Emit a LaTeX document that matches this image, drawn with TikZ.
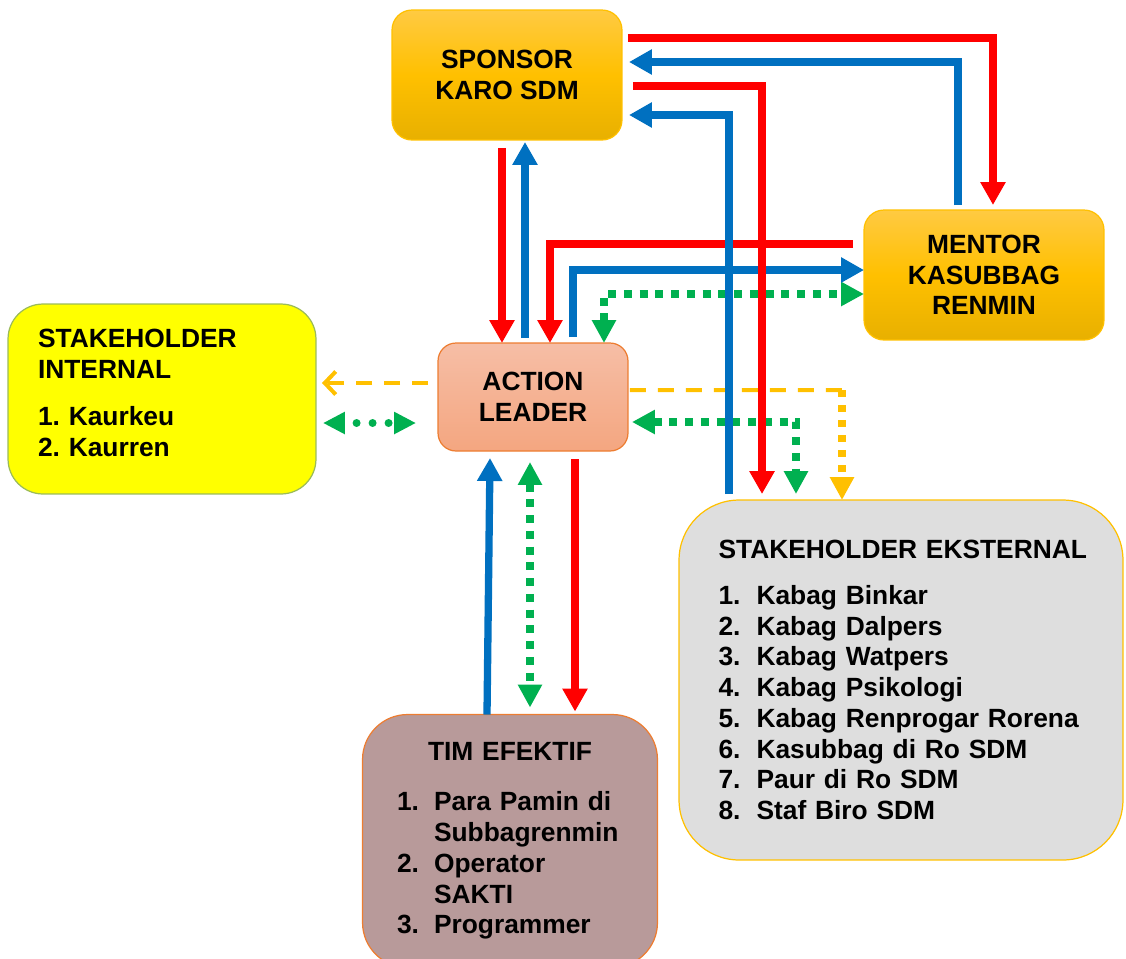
\documentclass[tikz,border=0pt]{standalone}
\usepackage{fontspec}
\setsansfont{Liberation Sans}
\usetikzlibrary{arrows.meta,calc}
\frenchspacing

\definecolor{sdmred}{HTML}{FF0000}
\definecolor{sdmblue}{HTML}{0070C0}
\definecolor{sdmgreen}{HTML}{00B050}
\definecolor{sdmorange}{HTML}{FFC000}
\definecolor{goldtop}{HTML}{FFCA42}
\definecolor{goldmid}{HTML}{FFC000}
\definecolor{goldbot}{HTML}{E8B000}
\definecolor{salmontop}{HTML}{F6BEA6}
\definecolor{salmonbot}{HTML}{F4A680}
\definecolor{edgeorange}{HTML}{ED7D31}
\definecolor{timfill}{HTML}{B89A9A}
\definecolor{ekstfill}{HTML}{DEDEDE}
\definecolor{intedge}{HTML}{9BBB59}
\definecolor{intfill}{HTML}{FFFF00}

\begin{document}
\begin{tikzpicture}[x=0.02cm, y=-0.02cm, font=\sffamily\bfseries\fontsize{15}{17.5}\selectfont,
    every node/.style={outer sep=0pt, inner sep=0pt}, line join=miter,
    box/.style={draw, line width=0.7pt},
    redarrow/.style={draw=sdmred, line width=0.146cm, -{Triangle[length=0.46cm,width=0.48cm]}},
    bluearrow/.style={draw=sdmblue, line width=0.146cm, -{Triangle[length=0.46cm,width=0.48cm]}},
    greendot/.style={draw=sdmgreen, line width=0.16cm, dash pattern=on 0.16cm off 0.155cm, {Triangle[length=0.46cm,width=0.46cm]}-{Triangle[length=0.46cm,width=0.46cm]}},
    orangedash/.style={draw=sdmorange, line width=0.08cm, dash pattern=on 0.32cm off 0.24cm}]
    \useasboundingbox (0,0) rectangle (1126,958);

    % Boxes
    \node[box, rounded corners=0.4cm, draw=goldmid, top color=goldtop, bottom color=goldbot, middle color=goldmid, minimum width=4.6cm, minimum height=2.6cm, align=center] (sponsor) at (507,75) {SPONSOR\\KARO SDM};
    \node[box, rounded corners=0.4cm, draw=goldmid, top color=goldtop, bottom color=goldbot, middle color=goldmid, minimum width=4.8cm, minimum height=2.6cm, align=center] (mentor) at (984,275) {MENTOR\\KASUBBAG\\RENMIN};
    \node[box, rounded corners=0.36cm, draw=edgeorange, top color=salmontop, bottom color=salmonbot, minimum width=3.8cm, minimum height=2.16cm, align=center] (leader) at (533,397) {ACTION\\LEADER};
    \node[box, rounded corners=0.7cm, draw=intedge, fill=intfill, minimum width=6.16cm, minimum height=3.8cm, text width=4.96cm, align=left] (internal) at (162,399) {STAKEHOLDER\\INTERNAL\\[0.33cm]1. Kaurkeu\\2. Kaurren\\[-0.38cm]\mbox{}};
    \node[box, rounded corners=1.2cm, draw=sdmorange, fill=ekstfill, minimum width=8.88cm, minimum height=7.2cm, text width=7.3cm, align=left] (ekst) at (901,680) {\mbox{STAKEHOLDER EKSTERNAL}\\[0.3cm]
        \makebox[0.76cm][l]{1.}Kabag Binkar\\
        \makebox[0.76cm][l]{2.}Kabag Dalpers\\
        \makebox[0.76cm][l]{3.}Kabag Watpers\\
        \makebox[0.76cm][l]{4.}Kabag Psikologi\\
        \makebox[0.76cm][l]{5.}Kabag Renprogar Rorena\\
        \makebox[0.76cm][l]{6.}Kasubbag di Ro SDM\\
        \makebox[0.76cm][l]{7.}Paur di Ro SDM\\
        \makebox[0.76cm][l]{8.}Staf Biro SDM};
    \node[box, rounded corners=0.9cm, draw=edgeorange, fill=timfill, minimum width=5.9cm, minimum height=5.06cm, text width=4.52cm, align=left] (tim) at (510,841) {\makebox[\linewidth]{TIM EFEKTIF}\\[0.39cm]
        \makebox[0.74cm][l]{1.}Para Pamin di\\
        \hspace*{0.74cm}Subbagrenmin\\
        \makebox[0.74cm][l]{2.}Operator\\
        \hspace*{0.74cm}SAKTI\\
        \makebox[0.74cm][l]{3.}Programmer};

    % Dotted and dashed links
    \draw[greendot] ($(leader.north)+(71,0)$) |- ($(mentor.west)+(0,19)$);
    \draw[greendot] ($(leader.east)+(4,25)$) -| ($(ekst.north)+(-105,-6)$);
    \draw[greendot] ($(leader.south)+(-3,11)$) -- ($(tim.north)+(20,-7)$);
    \draw[draw=sdmgreen, line width=0.16cm, line cap=round, dash pattern=on 0pt off 0.32cm, dash phase=0.06cm, {Triangle[length=0.44cm,width=0.42cm]}-{Triangle[length=0.44cm,width=0.42cm]}] ($(internal.east)+(7,24)$) -- ($(leader.west)+(-22,26)$);
    \draw[orangedash, -{Straight Barb[length=0.22cm,width=0.46cm,line width=0.08cm]}] ($(leader.west)+(-10,-14)$) -- ($(internal.east)+(6,-16)$);
    \coordinate (obend) at ($(ekst.north)+(-59,-110)$);
    \draw[orangedash] ($(leader.east)+(2,-7)$) -- (obend);
    \draw[draw=sdmorange, line width=0.15cm, dash pattern=on 0.14cm off 0.16cm, -{Triangle[length=0.46cm,width=0.46cm]}] (obend) -- (ekst.north -| obend);

    % Sponsor <-> Mentor
    \draw[redarrow] ($(sponsor.east)+(6,-37)$) -| ($(mentor.north)+(9,-5)$);
    \draw[bluearrow] ($(mentor.north)+(-26,-5)$) |- ($(sponsor.east)+(7,-13)$);

    % Sponsor <-> Action Leader
    \draw[redarrow] ($(sponsor.south)+(-5,8)$) -- ($(leader.north)+(-31,0)$);
    \draw[bluearrow] ($(leader.north)+(-8,-5)$) -- ($(sponsor.south)+(18,2)$);

    % Mentor <-> Action Leader
    \draw[redarrow] ($(mentor.west)+(-11,-31)$) -| ($(leader.north)+(17,0)$);

    % Sponsor <-> Stakeholder Eksternal
    \draw[bluearrow] ($(ekst.north)+(-172,-6)$) |- ($(sponsor.east)+(7,40)$);
    \draw[bluearrow] ($(leader.north)+(40,-6)$) |- ($(mentor.west)+(0,-5)$);
    \draw[redarrow] ($(sponsor.east)+(11,11)$) -| ($(ekst.north)+(-139,-6)$);

    % Action Leader <-> Tim Efektif
    \draw[bluearrow] ($(tim.north)+(-23,0)$) -- ($(leader.south)+(-43,7)$);
    \draw[redarrow] ($(leader.south)+(42,8)$) -- ($(tim.north)+(65,-3)$);
\end{tikzpicture}
\end{document}
